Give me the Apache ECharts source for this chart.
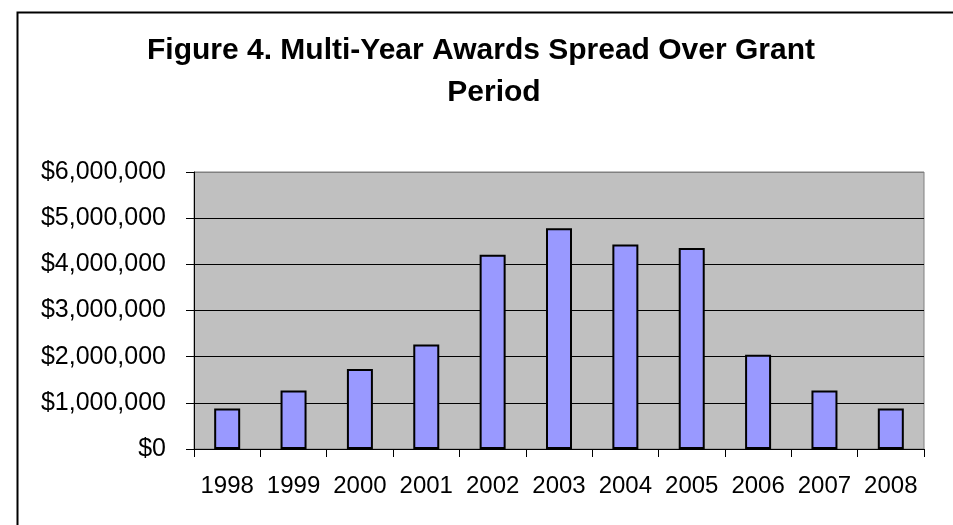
<!DOCTYPE html>
<html>
<head>
<meta charset="utf-8">
<script src="https://cdn.jsdelivr.net/npm/echarts@6/dist/echarts.min.js"></script>
<style>
html,body{margin:0;padding:0;background:#fff;}
#chart{width:953px;height:525px;}
</style>
</head>
<body>
<div id="chart"></div>
<script>
const titleLine1 = 'Figure 4. Multi-Year Awards Spread Over Grant';
const titleLine2 = 'Period';
const years = ['1998','1999','2000','2001','2002','2003','2004','2005','2006','2007','2008'];
const awards = [875000, 1265000, 1735000, 2262000, 4208000, 4779000, 4432000, 4353000, 2040000, 1265000, 875000];
const yTicks = [0, 1000000, 2000000, 3000000, 4000000, 5000000, 6000000];

const FONT = '"Liberation Sans", Arial, sans-serif';
const chart = echarts.init(document.getElementById('chart'), null, {renderer: 'canvas'});

function money(v) {
  return '$' + String(Math.round(v)).replace(/\B(?=(\d{3})+(?!\d))/g, ',');
}

chart.setOption({
  animation: false,
  backgroundColor: '#ffffff',
  title: [
    {text: titleLine1, left: 481, top: 36, textAlign: 'center', padding: 0,
     textStyle: {fontFamily: FONT, fontSize: 30, fontWeight: 'bold', color: '#000'}},
    {text: titleLine2, left: 494, top: 78, textAlign: 'center', padding: 0,
     textStyle: {fontFamily: FONT, fontSize: 30, fontWeight: 'bold', color: '#000'}}
  ],
  graphic: [
    {type: 'rect', left: 15, top: 10, shape: {width: 960, height: 540},
     style: {fill: 'none', stroke: '#000', lineWidth: 2}, silent: true}
  ],
  grid: {
    left: 194, right: 29, top: 172, bottom: 76,
    show: true, backgroundColor: '#C0C0C0', borderColor: '#808080', borderWidth: 1,
    containLabel: false
  },
  xAxis: {
    type: 'category',
    data: years,
    boundaryGap: true,
    axisLine: {show: true, lineStyle: {color: '#000', width: 1}},
    axisTick: {show: true, inside: false, length: 8, alignWithLabel: false, lineStyle: {color: '#000'}},
    axisLabel: {margin: 25, fontFamily: FONT, fontSize: 24, color: '#000', interval: 0},
    splitLine: {show: false}
  },
  yAxis: {
    type: 'value',
    min: yTicks[0],
    max: yTicks[yTicks.length - 1],
    interval: yTicks[1] - yTicks[0],
    axisLine: {show: true, lineStyle: {color: '#000', width: 1}},
    axisTick: {show: true, inside: false, length: 8, lineStyle: {color: '#000'}},
    axisLabel: {margin: 28, fontFamily: FONT, fontSize: 25, color: '#000', formatter: money},
    splitLine: {show: true, lineStyle: {color: ['#000','#000','#000','#000','#000','#000','#808080'], width: 1}}
  },
  series: [{
    type: 'bar',
    data: awards,
    barWidth: 26,
    itemStyle: {color: '#9999FF', borderColor: '#000', borderWidth: 2},
    silent: true
  }]
});
</script>
</body>
</html>
